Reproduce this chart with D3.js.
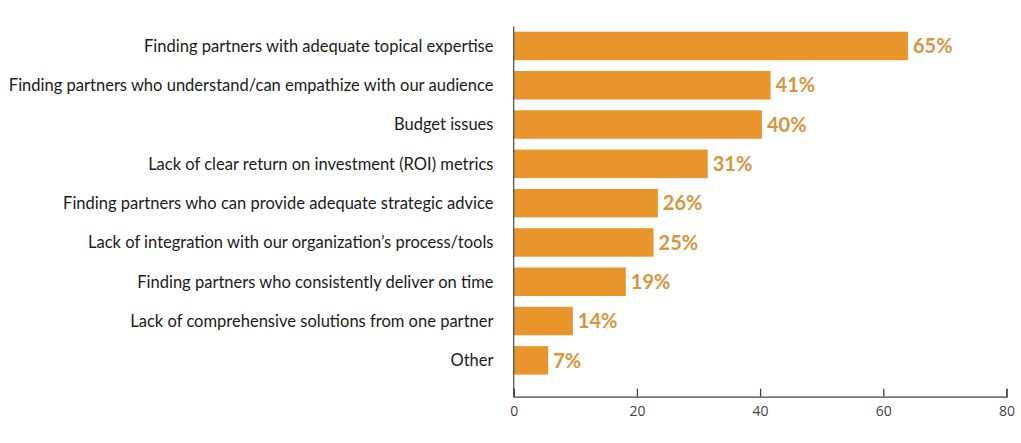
<!DOCTYPE html>
<html>
<head>
<meta charset="utf-8">
<script src="https://cdn.jsdelivr.net/npm/d3@7"></script>
<style>
  html, body { margin: 0; padding: 0; background: #fff; }
  svg { display: block; }
</style>
</head>
<body>
<svg id="chart" width="1021" height="443"></svg>
<script>
const categories = [
  "Finding partners with adequate topical expertise",
  "Finding partners who understand/can empathize with our audience",
  "Budget issues",
  "Lack of clear return on investment (ROI) metrics",
  "Finding partners who can provide adequate strategic advice",
  "Lack of integration with our organization\u2019s process/tools",
  "Finding partners who consistently deliver on time",
  "Lack of comprehensive solutions from one partner",
  "Other"
];
// bar lengths as drawn in the reference
const values = [64.0, 41.7, 40.3, 31.5, 23.4, 22.7, 18.2, 9.6, 5.6];
// printed percentage labels
const valueLabels = ["65%", "41%", "40%", "31%", "26%", "25%", "19%", "14%", "7%"];
const xTicks = [0, 20, 40, 60, 80];

const svg = d3.select("#chart");
const x0 = 513.7, x1 = 1006.5;
const yTop = 26.5, yAxis = 396.7;

const x = d3.scaleLinear().domain([0, 80]).range([x0, x1]);
const y = d3.scaleBand().domain(categories).range([26.3, 380]).paddingInner(0.275).paddingOuter(0.1375);

const barColor = "#E8962B";
const labelColor = "#D8953E";

// bars
svg.append("g").selectAll("rect").data(categories).join("rect")
  .attr("x", x(0))
  .attr("y", d => y(d))
  .attr("width", (d, i) => x(values[i]) - x(0))
  .attr("height", y.bandwidth())
  .attr("fill", barColor);

// value labels
svg.append("g").selectAll("text").data(categories).join("text")
  .attr("x", (d, i) => x(values[i]) + 5)
  .attr("y", d => y(d) + y.bandwidth() / 2)
  .attr("dy", "0.36em")
  .attr("font-family", "Lato, 'Open Sans', sans-serif")
  .attr("font-weight", 700)
  .attr("font-size", 20)
  .attr("fill", labelColor)
  .text((d, i) => valueLabels[i]);

// category labels
const catG = svg.append("g");
const cats = catG.selectAll("text").data(categories).join("text")
  .attr("x", 493.5)
  .attr("y", d => y(d) + y.bandwidth() / 2)
  .attr("dy", "0.35em")
  .attr("text-anchor", "end")
  .attr("font-family", "Lato, 'Open Sans', sans-serif")
  .attr("font-size", 16)
  .attr("fill", "#1a1a1a")
  .text(d => d);
// fit longest label width to reference (~485px)
const longest = cats.filter((d, i) => i === 1).node();
const w = longest.getComputedTextLength();
const fs = 16 * 485 / w;
cats.attr("font-size", fs);

// left axis line
svg.append("line")
  .attr("x1", x0).attr("x2", x0)
  .attr("y1", yTop).attr("y2", yAxis)
  .attr("stroke", "#555").attr("stroke-width", 1.3);

// bottom axis
const xAxis = d3.axisBottom(x).tickValues(xTicks).tickSize(-8).tickPadding(9);
const ax = svg.append("g").attr("transform", `translate(0,${yAxis})`).call(xAxis);
ax.select(".domain").attr("stroke", "#444").attr("stroke-width", 1.3);
ax.selectAll(".tick line").attr("stroke", "#444").attr("stroke-width", 1.3);
ax.selectAll(".tick text")
  .attr("font-family", "'Open Sans', sans-serif")
  .attr("font-size", 14)
  .attr("fill", "#444");
</script>
</body>
</html>
